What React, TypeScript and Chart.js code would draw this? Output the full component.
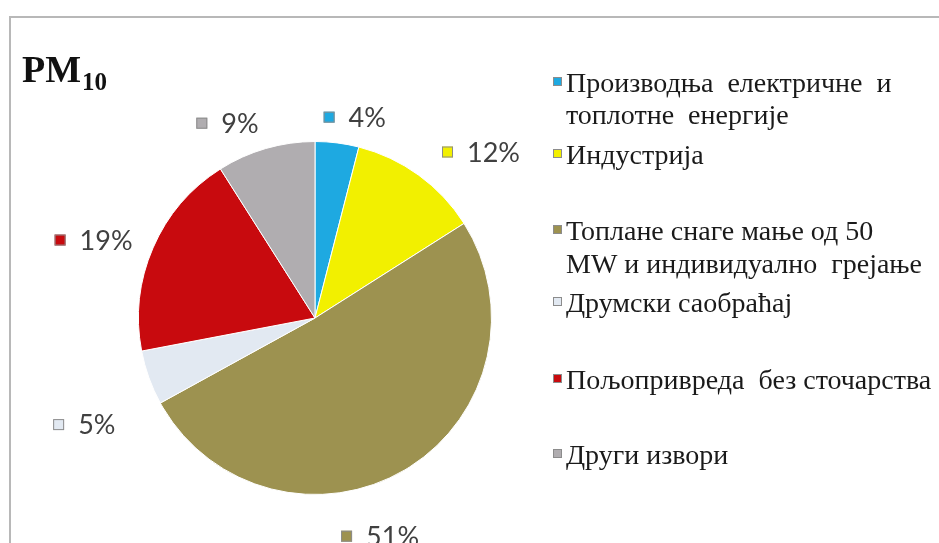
import React, { useEffect, useRef } from "react";
import { Chart, registerables } from "chart.js";

Chart.register(...registerables);

const categories = [
  "Производња електричне и топлотне енергије",
  "Индустрија",
  "Топлане снаге мање од 50 MW и индивидуално грејање",
  "Друмски саобраћај",
  "Пољопривреда без сточарства",
  "Други извори",
];
const legendLines = [
  ["Производња  електричне  и", "топлотне  енергије"],
  ["Индустрија"],
  ["Топлане снаге мање од 50", "MW и индивидуално  грејање"],
  ["Друмски саобраћај"],
  ["Пољопривреда  без сточарства"],
  ["Други извори"],
];
const shares = [4, 12, 51, 5, 19, 9];
const sliceColors = ["#1ea9e1", "#f2f000", "#9d9250", "#e2e9f2", "#c80a0e", "#b0adb0"];
const titleMain = "PM";
const titleSub = "10";

// layout (not data)
const legendBaselines = [[92, 124], [164], [240, 273], [312], [389], [464]];
const labelAngleShift = [4, 9, 14, -5, -4, -8];
const labelDistFactor = [1.16, 1.33, 1.29, 1.44, 1.33, 1.21];

const decorPlugin = {
  id: "decor",
  beforeDraw(chart: any) {
    const ctx = chart.ctx;
    ctx.save();
    ctx.fillStyle = "#ffffff";
    ctx.fillRect(0, 0, chart.width, chart.height);
    ctx.strokeStyle = "#b8b8b8";
    ctx.lineWidth = 2;
    ctx.strokeRect(10, 17, chart.width + 20, chart.height + 20);
    ctx.restore();
  },
  afterDraw(chart: any) {
    const ctx = chart.ctx;
    ctx.save();
    // title
    ctx.fillStyle = "#111";
    ctx.textBaseline = "alphabetic";
    ctx.font = "bold 38px 'Liberation Serif'";
    ctx.fillText(titleMain, 22, 82);
    const w = ctx.measureText(titleMain).width;
    ctx.font = "bold 25px 'Liberation Serif'";
    ctx.fillText(titleSub, 22 + w + 1, 90);

    // data labels
    const meta = chart.getDatasetMeta(0);
    meta.data.forEach((arc: any, i: number) => {
      const p = arc.getProps(["x", "y", "startAngle", "endAngle", "outerRadius"], true);
      const mid = (p.startAngle + p.endAngle) / 2 + (labelAngleShift[i] * Math.PI) / 180;
      const d = p.outerRadius * labelDistFactor[i];
      const cx = p.x + Math.cos(mid) * d;
      const cy = p.y + Math.sin(mid) * d;
      const txt = shares[i] + "%";
      ctx.font = "27px Lato";
      const tw = ctx.measureText(txt).width;
      const box = 11;
      const gap = 14;
      const total = box + gap + tw;
      const x0 = cx - total / 2;
      ctx.fillStyle = sliceColors[i];
      ctx.fillRect(x0, cy - box / 2, box, box);
      ctx.strokeStyle = "#8c8c8c";
      ctx.lineWidth = 1;
      ctx.strokeRect(x0 + 0.5, cy - box / 2 + 0.5, box - 1, box - 1);
      ctx.fillStyle = "#404040";
      ctx.textBaseline = "middle";
      ctx.textAlign = "left";
      ctx.fillText(txt, x0 + box + gap, cy + 1);
    });

    // legend
    ctx.textBaseline = "alphabetic";
    ctx.font = "28px 'Liberation Serif'";
    legendLines.forEach((lines, i) => {
      const b0 = legendBaselines[i][0];
      const bx = 553;
      const by = b0 - 15;
      ctx.fillStyle = sliceColors[i];
      ctx.fillRect(bx, by, 9, 9);
      ctx.strokeStyle = "#8c8c8c";
      ctx.lineWidth = 1;
      ctx.strokeRect(bx + 0.5, by + 0.5, 8, 8);
      ctx.fillStyle = "#1a1a1a";
      lines.forEach((ln, j) => {
        ctx.fillText(ln, 566, legendBaselines[i][j]);
      });
    });
    ctx.restore();
  },
};

export default function App() {
  const ref = useRef<HTMLCanvasElement | null>(null);
  useEffect(() => {
    document.body.style.margin = "0";
    const chart = new Chart(ref.current as HTMLCanvasElement, {
      type: "pie",
      data: {
        labels: categories,
        datasets: [
          {
            data: shares,
            backgroundColor: sliceColors,
            borderColor: "#ffffff",
            borderWidth: 1,
          },
        ],
      },
      options: {
        responsive: false,
        animation: false,
        layout: { padding: { left: 138, right: 447, top: 141, bottom: 48 } },
        plugins: { legend: { display: false }, tooltip: { enabled: false }, title: { display: false } },
      },
      plugins: [decorPlugin],
    });
    return () => chart.destroy();
  }, []);
  return (
    <div style={{ position: "absolute", left: 0, top: 0, width: 939, height: 543 }}>
      <canvas ref={ref} width={939} height={543} />
    </div>
  );
}
